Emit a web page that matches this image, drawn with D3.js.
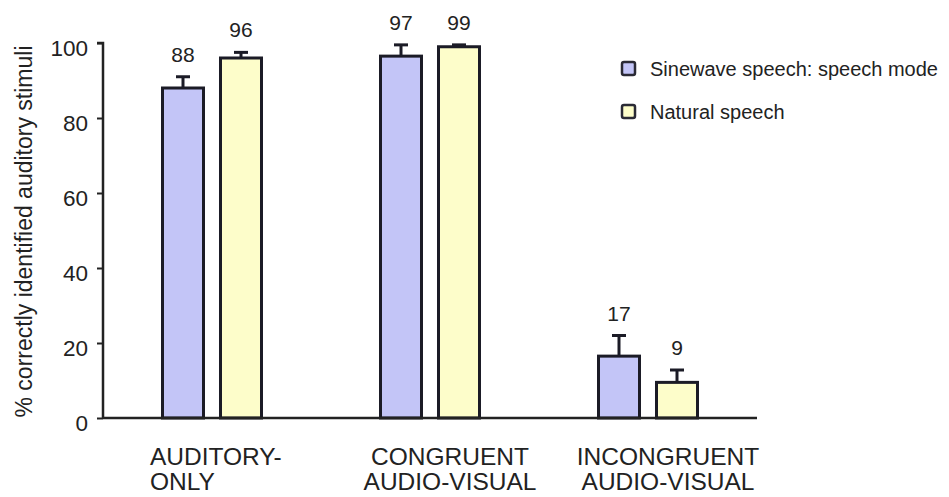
<!DOCTYPE html>
<html>
<head>
<meta charset="utf-8">
<script src="https://cdn.jsdelivr.net/npm/d3@7"></script>
<style>
  html, body { margin: 0; padding: 0; background: #fff; }
  svg { display: block; }
  text { font-family: "Liberation Sans", Arial, sans-serif; fill: #222; }
</style>
</head>
<body>
<svg id="chart" width="949" height="497"></svg>
<script>
// ---- data ----
const categories = ["AUDITORY-ONLY", "CONGRUENT AUDIO-VISUAL", "INCONGRUENT AUDIO-VISUAL"];
const categoryLines = [["AUDITORY-", "ONLY"], ["CONGRUENT", "AUDIO-VISUAL"], ["INCONGRUENT", "AUDIO-VISUAL"]];
const seriesNames = ["Sinewave speech: speech mode", "Natural speech"];
const sinewaveValues = [88, 96.5, 16.5];
const sinewaveErrors = [3, 3, 5.5];
const naturalValues = [96, 99, 9.5];
const naturalErrors = [1.5, 0.5, 3.3];
const sinewaveLabels = ["88", "97", "17"];
const naturalLabels = ["96", "99", "9"];
const yTicks = [0, 20, 40, 60, 80, 100];
const yTitle = "% correctly identified auditory stimuli";

// ---- layout ----
const colors = ["#c3c5f7", "#fdfdca"];
const svg = d3.select("#chart");
const axisLeft = 103, axisRight = 757, yBottom = 418, yTop = 43;

const x0 = d3.scaleBand().domain(categories).range([axisLeft, axisRight]).padding(0);
const x1 = d3.scaleBand().domain([0, 1]).range([-49.5, 49.5]).paddingInner(0.293).paddingOuter(0);
const y = d3.scaleLinear().domain([0, 100]).range([yBottom, yTop]);

const series = [
  { name: seriesNames[0], values: sinewaveValues, errors: sinewaveErrors, labels: sinewaveLabels },
  { name: seriesNames[1], values: naturalValues, errors: naturalErrors, labels: naturalLabels }
];

const bars = [];
series.forEach((s, si) => {
  categories.forEach((c, ci) => {
    bars.push({ cat: c, si, v: s.values[ci], e: s.errors[ci], label: s.labels[ci] });
  });
});

const g = svg.append("g");

// bars
g.selectAll("rect.bar").data(bars).join("rect")
  .attr("class", "bar")
  .attr("x", d => x0(d.cat) + x0.bandwidth() / 2 + x1(d.si))
  .attr("y", d => y(d.v))
  .attr("width", x1.bandwidth())
  .attr("height", d => y(0) - y(d.v))
  .attr("fill", d => colors[d.si])
  .attr("stroke", "#1b1b26")
  .attr("stroke-width", 3);

// error bars
const cx = d => x0(d.cat) + x0.bandwidth() / 2 + x1(d.si) + x1.bandwidth() / 2;
g.selectAll("line.err").data(bars).join("line")
  .attr("x1", cx).attr("x2", cx)
  .attr("y1", d => y(d.v)).attr("y2", d => y(d.v + d.e))
  .attr("stroke", "#1b1b26").attr("stroke-width", 3);
g.selectAll("line.cap").data(bars).join("line")
  .attr("x1", d => cx(d) - 7).attr("x2", d => cx(d) + 7)
  .attr("y1", d => y(d.v + d.e)).attr("y2", d => y(d.v + d.e))
  .attr("stroke", "#1b1b26").attr("stroke-width", 3);

// value labels
g.selectAll("text.val").data(bars).join("text")
  .attr("x", cx)
  .attr("y", d => y(d.v + d.e) - 15)
  .attr("text-anchor", "middle")
  .attr("font-size", 21)
  .text(d => d.label);

// y axis
const yAxis = d3.axisLeft(y).tickValues(yTicks).tickSize(6).tickPadding(9).tickFormat(d3.format("d"));
const ya = svg.append("g").attr("transform", `translate(${axisLeft},0)`).call(yAxis);
ya.select(".domain").attr("stroke", "#222").attr("stroke-width", 2.5).attr("d", `M-6,${yTop}H0V${yBottom}`);
ya.selectAll(".tick line").attr("stroke", "#222").attr("stroke-width", 2);
ya.selectAll(".tick text").attr("font-size", 22.5).attr("fill", "#222").attr("dy", "0.55em")
  .style("font-family", '"Liberation Sans", Arial, sans-serif');

// baseline
svg.append("line").attr("x1", axisLeft).attr("x2", axisRight)
  .attr("y1", y(0)).attr("y2", y(0)).attr("stroke", "#222").attr("stroke-width", 2.5);

// y title
svg.append("text")
  .attr("transform", `translate(32,${(yTop + yBottom) / 2 + 1}) rotate(-90)`)
  .attr("text-anchor", "middle")
  .attr("font-size", 23)
  .text(yTitle);

// x category labels
const labelLayout = [
  { anchor: "start", dx: -62 },
  { anchor: "middle", dx: 20 },
  { anchor: "middle", dx: 20 }
];
categories.forEach((c, ci) => {
  const t = svg.append("text")
    .attr("text-anchor", labelLayout[ci].anchor)
    .attr("font-size", 24.5);
  categoryLines[ci].forEach((line, li) => {
    t.append("tspan")
      .attr("x", x0(c) + x0.bandwidth() / 2 + labelLayout[ci].dx)
      .attr("y", 465 + li * 25)
      .text(line);
  });
});

// legend
const legend = svg.append("g").attr("transform", "translate(622,62)");
seriesNames.forEach((n, i) => {
  const row = legend.append("g").attr("transform", `translate(0,${i * 43})`);
  row.append("rect").attr("x", 0).attr("y", 0).attr("width", 13).attr("height", 13)
    .attr("rx", 2).attr("fill", colors[i]).attr("stroke", "#2a2a35").attr("stroke-width", 2.5);
  row.append("text").attr("x", 28).attr("y", 13.5).attr("font-size", 20).text(n);
});
</script>
</body>
</html>
